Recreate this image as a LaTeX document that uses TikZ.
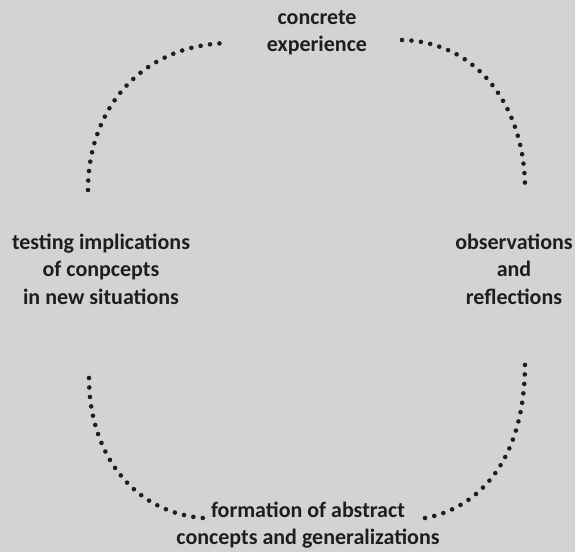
\documentclass[tikz,border=0pt]{standalone}
\usepackage{fontspec}
\setmainfont{Carlito}
\definecolor{paper}{HTML}{D3D3D5}
\definecolor{ink}{HTML}{1E1E1E}
\begin{document}
\begin{tikzpicture}[x=1pt,y=-1pt,
  lbl/.style={align=center,inner sep=0pt,text=ink,font=\fontsize{22}{27.5}\selectfont\bfseries},
  dots/.style={draw=ink,line width=4.6pt,line cap=round,dash pattern=on 0pt off 9.5pt}]
\fill[paper] (0,0) rectangle (575,552);
\useasboundingbox (0,0) rectangle (575,552);
\node[lbl] (ce) at (317,33) {concrete\\experience};
\node[lbl] (tc) at (101,269) {testing implications\\of conpcepts\\in new situations};
\node[lbl] (or) at (514,269) {observations\\and\\reflections};
\node[lbl] (fa) at (308,525) {formation of abstract\\concepts and generalizations};
\coordinate (tl1) at (88,190);  \coordinate (tl2) at (228,43);
\coordinate (tr1) at (402,40);  \coordinate (tr2) at (525,188);
\coordinate (bl1) at (89,378);  \coordinate (bl2) at (203,518);
\coordinate (br1) at (425,518); \coordinate (br2) at (525,363);
\draw[dots] (tl1) .. controls (88,110) and (140,45) .. (tl2);
\draw[dots] (tr1) .. controls (480,42) and (525,110) .. (tr2);
\draw[dots] (bl1) .. controls (89,450) and (130,512) .. (bl2);
\draw[dots] (br1) .. controls (470,510) and (525,470) .. (br2);
\end{tikzpicture}
\end{document}
